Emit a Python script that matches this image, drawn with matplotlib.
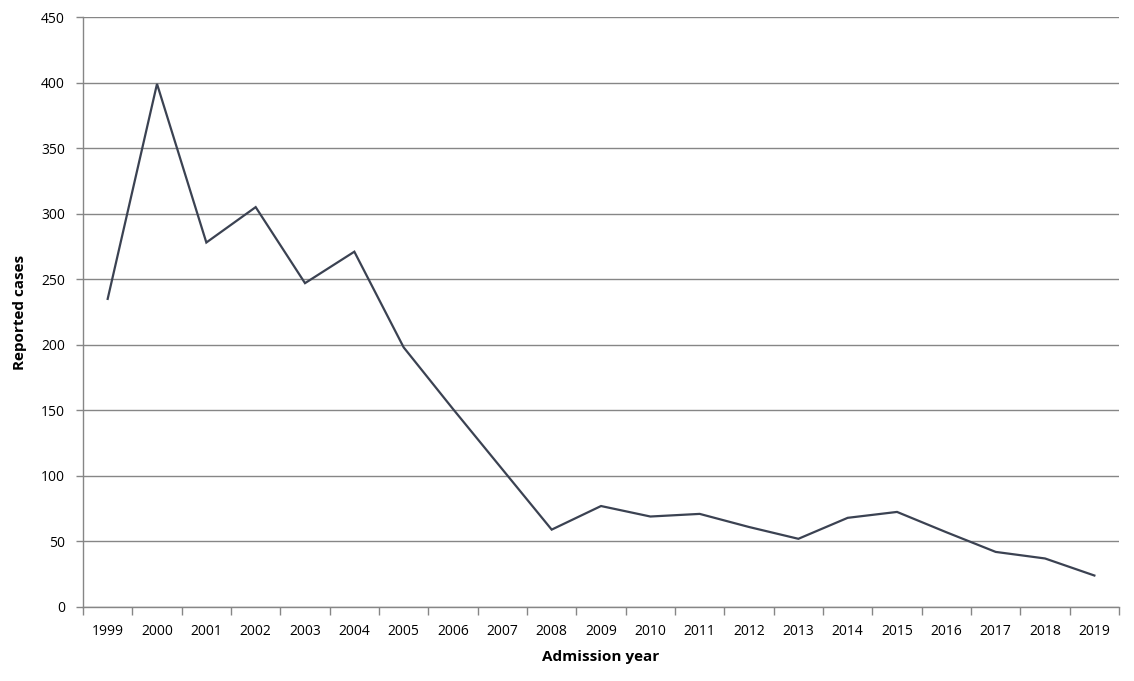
import numpy as np
import matplotlib
matplotlib.use("Agg")
import matplotlib.pyplot as plt

# --- Données ---
years = [str(y) for y in range(1999, 2020)]
cases = [235, 399, 278, 305, 247, 271, 198, 151, 105, 59,
         77, 69, 71, 61, 52, 68, 72.5, 57, 42, 37, 24]
yticks = [0, 50, 100, 150, 200, 250, 300, 350, 400, 450]

grey = "#868686"
line_col = "#3b4252"

plt.rcParams["font.family"] = ["Open Sans", "DejaVu Sans"]

fig = plt.figure(figsize=(11.34, 6.81), dpi=100)
ax = fig.add_axes([0.0732, 0.1087, 0.9136, 0.8663])

x = np.arange(len(years))
ax.plot(x, cases, color=line_col, linewidth=1.6, solid_joinstyle="miter")

ax.set_xlim(-0.5, len(years) - 0.5)
ax.set_ylim(0, 450)
ax.set_yticks(yticks)
ax.set_xticks(x)
ax.set_xticklabels(years)
ax.set_xticks(np.arange(-0.5, len(years)), minor=True)
ax.tick_params(axis="x", which="major", length=0, pad=12, labelsize=10, colors="black")
ax.tick_params(axis="x", which="minor", length=6, color=grey, width=1)
ax.tick_params(axis="y", length=5, color=grey, width=1, pad=8, labelsize=10)

ax.grid(axis="y", color=grey, linewidth=1)
ax.set_axisbelow(True)
for s in ["top", "right"]:
    ax.spines[s].set_visible(False)
for s in ["left", "bottom"]:
    ax.spines[s].set_color(grey)
    ax.spines[s].set_linewidth(1)

ax.set_xlabel("Admission year", fontsize=11, fontweight="bold", labelpad=8)
ax.set_ylabel("Reported cases", fontsize=11, fontweight="bold", labelpad=10)

plt.savefig("out.png", dpi=100)
